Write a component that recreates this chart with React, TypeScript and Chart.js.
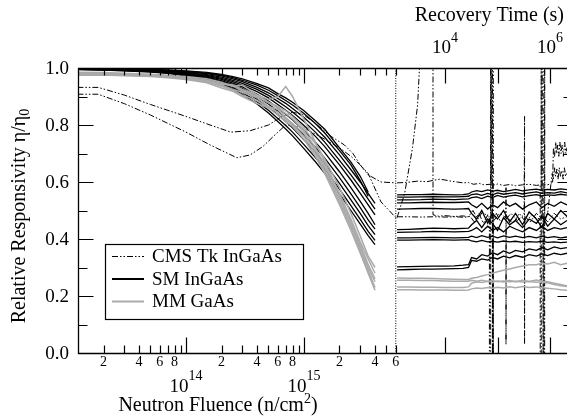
import React, { useEffect, useRef } from 'react';
import { Chart, registerables } from 'chart.js';

Chart.register(...registerables);

// ---------------- data ----------------
const fluenceGrid = [
  1.2e13, 2e13, 3e13, 5e13, 7e13, 1e14, 1.5e14, 2e14, 2.5e14, 3e14, 4e14, 5e14,
  6e14, 7e14, 8e14, 1e15, 1.25e15, 1.5e15, 2e15, 2.5e15, 3e15, 3.5e15, 4e15,
];

const smLeftValues: (number | null)[][] = [
  [1.0, 0.998, 0.997, 0.995, 0.993, 0.99, 0.985, 0.978, 0.97, 0.962, 0.945, 0.93, 0.91, 0.895, 0.88, 0.85, 0.815, 0.785, 0.72, 0.67, 0.62, 0.565, null],
  [0.999, 0.997, 0.996, 0.994, 0.992, 0.988, 0.982, 0.975, 0.966, 0.957, 0.94, 0.922, 0.903, 0.886, 0.87, 0.84, 0.805, 0.772, 0.71, 0.66, 0.605, 0.55, null],
  [0.998, 0.997, 0.995, 0.993, 0.99, 0.986, 0.98, 0.972, 0.962, 0.952, 0.932, 0.913, 0.893, 0.876, 0.858, 0.826, 0.79, 0.757, 0.695, 0.643, 0.6, 0.56, 0.525],
  [0.997, 0.996, 0.994, 0.992, 0.989, 0.984, 0.977, 0.968, 0.957, 0.946, 0.925, 0.904, 0.883, 0.864, 0.846, 0.812, 0.775, 0.74, 0.676, 0.625, 0.58, 0.54, 0.505],
  [0.997, 0.995, 0.993, 0.99, 0.987, 0.982, 0.974, 0.964, 0.952, 0.94, 0.917, 0.895, 0.872, 0.852, 0.833, 0.798, 0.76, 0.724, 0.66, 0.607, 0.56, 0.52, 0.485],
  [0.996, 0.995, 0.993, 0.99, 0.986, 0.98, 0.971, 0.96, 0.947, 0.934, 0.908, 0.884, 0.86, 0.838, 0.818, 0.78, 0.74, 0.703, 0.636, 0.58, 0.532, 0.49, 0.45],
  [0.996, 0.994, 0.992, 0.989, 0.985, 0.978, 0.968, 0.956, 0.942, 0.928, 0.9, 0.874, 0.848, 0.825, 0.804, 0.764, 0.722, 0.684, 0.615, 0.558, 0.51, 0.467, 0.435],
  [0.995, 0.994, 0.992, 0.988, 0.984, 0.976, 0.965, 0.952, 0.937, 0.921, 0.891, 0.863, 0.836, 0.812, 0.79, 0.748, 0.704, 0.665, 0.595, 0.537, 0.49, 0.447, 0.415],
  [0.995, 0.993, 0.991, 0.987, 0.982, 0.974, 0.962, 0.948, 0.931, 0.914, 0.882, 0.852, 0.823, 0.798, 0.775, 0.731, 0.686, 0.646, 0.575, 0.517, 0.469, 0.427, 0.395],
  [0.994, 0.993, 0.99, 0.986, 0.981, 0.972, 0.959, 0.944, 0.926, 0.908, 0.874, 0.842, 0.812, 0.786, 0.762, 0.717, 0.671, 0.63, 0.558, 0.5, 0.452, 0.412, 0.38],
];

const mmLeftValues: (number | null)[][] = [
  [0.985, 0.984, 0.982, 0.978, 0.975, 0.97, 0.962, 0.95, 0.935, 0.94, 0.905, 0.89, 0.9, 0.935, 0.9, 0.82, 0.74, 0.67, 0.56, 0.47, 0.39, 0.33, 0.28],
  [0.98, 0.979, 0.977, 0.974, 0.97, 0.965, 0.955, 0.94, 0.925, 0.915, 0.895, 0.865, 0.855, 0.825, 0.805, 0.77, 0.71, 0.65, 0.54, 0.45, 0.37, 0.3, 0.25],
  [0.975, 0.975, 0.973, 0.97, 0.966, 0.96, 0.948, 0.93, 0.918, 0.9, 0.875, 0.86, 0.835, 0.812, 0.795, 0.75, 0.69, 0.63, 0.52, 0.43, 0.35, 0.28, 0.22],
  [0.983, 0.981, 0.979, 0.976, 0.972, 0.967, 0.958, 0.944, 0.938, 0.92, 0.9, 0.878, 0.86, 0.84, 0.822, 0.78, 0.72, 0.66, 0.55, 0.46, 0.38, 0.31, 0.26],
  [0.978, 0.977, 0.975, 0.972, 0.968, 0.962, 0.952, 0.936, 0.922, 0.905, 0.885, 0.862, 0.845, 0.82, 0.8, 0.76, 0.7, 0.64, 0.53, 0.44, 0.36, 0.29, 0.23],
  [0.982, 0.98, 0.978, 0.975, 0.971, 0.966, 0.957, 0.946, 0.94, 0.925, 0.905, 0.88, 0.865, 0.85, 0.83, 0.79, 0.735, 0.68, 0.58, 0.49, 0.41, 0.34, 0.3],
];

const cmsAFluence = [1.2e13, 1.8e13, 3e13, 5e13, 1e14, 1.6e14, 2.4e14, 3.5e14, 5e14, 6.5e14, 8e14, 1e15, 1.3e15, 1.7e15, 2.2e15, 2.6e15, 3e15, 3.5e15, 4.5e15, 6e15];
const cmsAValues = [0.932, 0.932, 0.905, 0.872, 0.83, 0.8, 0.775, 0.78, 0.8, 0.83, 0.845, 0.835, 0.8, 0.76, 0.73, 0.7, 0.66, 0.625, 0.6, 0.597];

const cmsBFluence = [1.2e13, 1.8e13, 3e13, 5e13, 1e14, 1.6e14, 2.7e14, 3.5e14, 4.5e14, 5.5e14, 7e14, 1e15, 1.5e15, 2e15, 2.5e15, 3e15, 3.5e15, 4.5e15, 6e15];
const cmsBValues = [0.908, 0.908, 0.875, 0.835, 0.775, 0.73, 0.685, 0.695, 0.725, 0.76, 0.8, 0.79, 0.75, 0.72, 0.69, 0.66, 0.63, 0.53, 0.475];

const separatorFluence = [6e15, 6e15];
const separatorValues = [-0.1, 1.1];

const recoveryGrid = [
  1220, 2000, 3500, 6000, 1e4, 1.5e4, 2.2e4, 2.8e4, 3.2e4, 4e4, 5e4, 6.5e4, 8e4,
  1e5, 1.3e5, 1.7e5, 2.2e5, 3e5, 4e5, 5.5e5, 7e5, 9e5, 1.2e6, 1.6e6, 2.1e6,
];

const smRightValues: number[][] = [
  [0.555, 0.556, 0.556, 0.557, 0.556, 0.555, 0.556, 0.558, 0.565, 0.57, 0.566, 0.572, 0.568, 0.571, 0.566, 0.57, 0.574, 0.569, 0.572, 0.575, 0.571, 0.574, 0.572, 0.576, 0.573],
  [0.547, 0.547, 0.548, 0.549, 0.548, 0.548, 0.549, 0.55, 0.556, 0.558, 0.553, 0.56, 0.555, 0.562, 0.557, 0.56, 0.563, 0.558, 0.562, 0.565, 0.56, 0.563, 0.561, 0.566, 0.562],
  [0.537, 0.537, 0.538, 0.54, 0.539, 0.538, 0.54, 0.541, 0.545, 0.548, 0.542, 0.55, 0.545, 0.553, 0.547, 0.551, 0.554, 0.548, 0.552, 0.556, 0.551, 0.555, 0.553, 0.557, 0.554],
  [0.527, 0.527, 0.528, 0.529, 0.528, 0.528, 0.529, 0.53, 0.52, 0.51, 0.525, 0.505, 0.52, 0.51, 0.53, 0.515, 0.525, 0.505, 0.52, 0.53, 0.51, 0.525, 0.515, 0.53, 0.52],
  [0.505, 0.506, 0.507, 0.507, 0.506, 0.505, 0.506, 0.507, 0.49, 0.47, 0.5, 0.455, 0.49, 0.47, 0.5, 0.46, 0.49, 0.45, 0.495, 0.47, 0.44, 0.49, 0.47, 0.5, 0.48],
  [0.433, 0.434, 0.436, 0.438, 0.437, 0.436, 0.437, 0.438, 0.45, 0.465, 0.44, 0.47, 0.455, 0.43, 0.475, 0.45, 0.465, 0.44, 0.47, 0.455, 0.48, 0.445, 0.47, 0.45, 0.465],
  [0.423, 0.424, 0.425, 0.427, 0.426, 0.425, 0.426, 0.427, 0.43, 0.44, 0.425, 0.445, 0.43, 0.44, 0.425, 0.445, 0.435, 0.425, 0.44, 0.43, 0.445, 0.43, 0.44, 0.435, 0.44],
  [0.404, 0.404, 0.405, 0.406, 0.405, 0.404, 0.405, 0.406, 0.41, 0.405, 0.412, 0.406, 0.41, 0.404, 0.411, 0.406, 0.41, 0.405, 0.409, 0.404, 0.41, 0.405, 0.408, 0.404, 0.407],
  [0.396, 0.396, 0.397, 0.398, 0.397, 0.396, 0.397, 0.398, 0.393, 0.39, 0.395, 0.39, 0.392, 0.389, 0.393, 0.39, 0.392, 0.388, 0.391, 0.389, 0.392, 0.388, 0.39, 0.387, 0.389],
  [0.302, 0.303, 0.304, 0.305, 0.305, 0.306, 0.308, 0.31, 0.335, 0.33, 0.345, 0.34, 0.352, 0.345, 0.358, 0.35, 0.36, 0.355, 0.365, 0.36, 0.37, 0.362, 0.372, 0.366, 0.37],
  [0.292, 0.293, 0.294, 0.294, 0.295, 0.296, 0.297, 0.3, 0.325, 0.322, 0.33, 0.326, 0.335, 0.33, 0.34, 0.334, 0.342, 0.336, 0.345, 0.34, 0.348, 0.342, 0.35, 0.345, 0.35],
];

const mmRightValues: number[][] = [
  [0.263, 0.262, 0.262, 0.261, 0.26, 0.259, 0.258, 0.258, 0.262, 0.265, 0.27, 0.275, 0.28, 0.285, 0.29, 0.295, 0.3, 0.305, 0.31, 0.31, 0.315, 0.312, 0.318, 0.31, 0.315],
  [0.255, 0.255, 0.254, 0.254, 0.253, 0.252, 0.252, 0.252, 0.255, 0.252, 0.255, 0.251, 0.254, 0.25, 0.253, 0.25, 0.252, 0.249, 0.251, 0.248, 0.25, 0.246, 0.24, 0.236, 0.233],
  [0.232, 0.232, 0.231, 0.231, 0.23, 0.23, 0.23, 0.232, 0.245, 0.25, 0.247, 0.252, 0.248, 0.253, 0.249, 0.254, 0.25, 0.255, 0.251, 0.256, 0.252, 0.25, 0.245, 0.24, 0.235],
  [0.222, 0.222, 0.221, 0.221, 0.221, 0.22, 0.22, 0.221, 0.225, 0.228, 0.226, 0.23, 0.227, 0.231, 0.228, 0.232, 0.229, 0.233, 0.23, 0.232, 0.229, 0.227, 0.225, 0.222, 0.22],
];

// [recovery time (s), relative responsivity]
const cmsRight1: [number, number][] = [
  [1220, 0.597], [1600, 0.598], [2200, 0.6], [3000, 0.603], [4500, 0.601], [6000, 0.606], [8000, 0.61], [1e4, 0.607],
  [1.3e4, 0.603], [1.7e4, 0.6], [2.2e4, 0.597], [2.8e4, 0.598], [3.5e4, 0.592], [4.5e4, 0.595], [5.5e4, 0.59], [7.2e4, 0.592],
  [7.6e4, 0.59], [7.6e4, 1.3], [8.0e4, 1.3], [8.0e4, -0.3], [8.0e4, 0.59], [9e4, 0.59], [1e5, 0.593], [1.3e5, 0.588],
  [1.7e5, 0.591], [2.2e5, 0.587], [3e5, 0.59], [4e5, 0.592], [5.5e5, 0.588], [6.5e5, 0.59], [6.5e5, -0.3], [6.8e5, -0.3],
  [6.8e5, 1.3], [6.8e5, 0.59], [8.5e5, 0.59], [1.0e6, 0.592], [1.12e6, 0.6], [1.16e6, 0.72], [1.22e6, 0.69], [1.28e6, 0.74],
  [1.34e6, 0.7], [1.4e6, 0.73], [1.47e6, 0.69], [1.54e6, 0.74], [1.62e6, 0.7], [1.7e6, 0.73], [1.8e6, 0.69], [1.9e6, 0.74],
  [2.0e6, 0.7], [2.1e6, 0.72], [2.3e6, 0.71],
];

const cmsRight2: [number, number][] = [
  [1220, 0.475], [1700, 0.56], [2400, 0.72], [3000, 0.87], [3700, 1.2], [5900, 1.2], [5900, 0.485], [7500, 0.48],
  [1e4, 0.482], [1.5e4, 0.479], [2.2e4, 0.481], [2.8e4, 0.478], [3.4e4, 0.5], [4.2e4, 0.47], [5.2e4, 0.495], [7.0e4, 0.475],
  [7.0e4, -0.3], [7.4e4, -0.3], [7.4e4, 1.3], [7.4e4, 0.48], [8.5e4, 0.465], [1.1e5, 0.49], [1.44e5, 0.475], [1.45e5, 0.58],
  [1.45e5, 0.03], [1.46e5, 0.47], [1.8e5, 0.49], [2.4e5, 0.465], [3.2e5, 0.485], [3.27e5, 0.83], [3.27e5, 0.03], [3.29e5, 0.48],
  [4.2e5, 0.46], [5.5e5, 0.49], [7.1e5, 0.47], [7.1e5, 1.3], [7.4e5, 1.3], [7.4e5, -0.3], [7.4e5, 0.48], [9e5, 0.46],
  [1.2e6, 0.49], [1.6e6, 0.47], [2.2e6, 0.48],
];

const cmsRight3: [number, number][] = [
  [1220, 0.478], [2000, 0.478], [3500, 0.477], [6000, 0.478], [1e4, 0.477], [1.6e4, 0.478], [2.4e4, 0.476], [3e4, 0.48],
  [3.6e4, 0.46], [4.4e4, 0.49], [5.4e4, 0.455], [6.5e4, 0.485], [7.8e4, 0.47], [7.8e4, 1.3], [8.3e4, 1.3], [8.3e4, -0.3],
  [8.3e4, 0.47], [9.5e4, 0.49], [1.15e5, 0.46], [1.5e5, 0.48], [2e5, 0.455], [2.6e5, 0.49], [3.4e5, 0.46], [4.5e5, 0.485],
  [5.8e5, 0.47], [7.7e5, 0.48], [7.7e5, -0.3], [7.9e5, -0.3], [7.9e5, 1.3], [7.9e5, 0.47], [9e5, 0.49], [1.05e6, 0.6],
  [1.1e6, 0.63], [1.16e6, 0.61], [1.22e6, 0.65], [1.28e6, 0.62], [1.35e6, 0.645], [1.42e6, 0.61], [1.5e6, 0.65], [1.58e6, 0.62],
  [1.68e6, 0.64], [1.78e6, 0.61], [1.88e6, 0.65], [1.98e6, 0.62], [2.2e6, 0.64],
];

// ticks / labels
const yMajorTicks = [0, 0.2, 0.4, 0.6, 0.8, 1.0];
const yMinorTicks = [0.1, 0.3, 0.5, 0.7, 0.9];
const fluenceMajorTicks = [1e14, 1e15];
const fluenceMinorTicks = [
  2e13, 3e13, 4e13, 5e13, 6e13, 7e13, 8e13, 9e13,
  2e14, 3e14, 4e14, 5e14, 6e14, 7e14, 8e14, 9e14,
  2e15, 3e15, 4e15, 5e15, 6e15,
];
const fluenceLabelTicks = [2e13, 4e13, 6e13, 8e13, 2e14, 4e14, 6e14, 8e14, 2e15, 4e15, 6e15];
const recoveryTicks = [1e4, 1e5, 1e6];
const recoveryLabelTicks = [1e4, 1e6];

const legendItems = ['CMS Tk InGaAs', 'SM InGaAs', 'MM GaAs'];

// ---------------- styling ----------------
const W = 580;
const H = 417;
const SERIF = '"Liberation Serif", "Times New Roman", Times, serif';
const GREY = '#aaaaaa';
const CMS_DASH = [6, 2, 1.5, 2, 1.5, 2];

const FLUENCE_MIN = 1.215e13;
const FLUENCE_MAX = 1.87e17;
const RECOVERY_MIN = 1.02e-3;
const RECOVERY_MAX = 2.62e6;

const toPts = (xs: number[], ys: (number | null)[]) =>
  xs.map((x, i) => ({ x, y: ys[i] })).filter((p) => p.y !== null) as { x: number; y: number }[];
const pairPts = (pairs: [number, number][]) => pairs.map(([x, y]) => ({ x, y }));

function buildDatasets() {
  const ds: any[] = [];
  const base = { pointRadius: 0, tension: 0, fill: false };
  mmLeftValues.forEach((v) =>
    ds.push({ ...base, data: toPts(fluenceGrid, v), xAxisID: 'xF', yAxisID: 'y', borderColor: GREY, borderWidth: 1.5 })
  );
  mmRightValues.forEach((v) =>
    ds.push({ ...base, data: toPts(recoveryGrid, v), xAxisID: 'xR', yAxisID: 'y', borderColor: GREY, borderWidth: 1.5 })
  );
  smLeftValues.forEach((v) =>
    ds.push({ ...base, data: toPts(fluenceGrid, v), xAxisID: 'xF', yAxisID: 'y', borderColor: '#000', borderWidth: 1.3 })
  );
  smRightValues.forEach((v) =>
    ds.push({ ...base, data: toPts(recoveryGrid, v), xAxisID: 'xR', yAxisID: 'y', borderColor: '#000', borderWidth: 1.3 })
  );
  const cms = { ...base, borderColor: '#000', borderWidth: 1, borderDash: CMS_DASH, yAxisID: 'y' };
  ds.push({ ...cms, data: toPts(cmsAFluence, cmsAValues), xAxisID: 'xF' });
  ds.push({ ...cms, data: toPts(cmsBFluence, cmsBValues), xAxisID: 'xF' });
  ds.push({ ...cms, data: pairPts(cmsRight1), xAxisID: 'xR' });
  ds.push({ ...cms, data: pairPts(cmsRight2), xAxisID: 'xR' });
  ds.push({ ...cms, data: pairPts(cmsRight3), xAxisID: 'xR' });
  ds.push({
    ...base,
    data: toPts(separatorFluence, separatorValues),
    xAxisID: 'xF',
    yAxisID: 'y',
    borderColor: '#000',
    borderWidth: 1,
    borderDash: [1, 1.5],
  });
  return ds;
}

function drawPow(ctx: CanvasRenderingContext2D, base: string, exp: string, cx: number, baseY: number, bs: number, es: number, raise: number) {
  ctx.font = `${bs}px ${SERIF}`;
  const wb = ctx.measureText(base).width;
  ctx.font = `${es}px ${SERIF}`;
  const we = ctx.measureText(exp).width;
  const start = cx - (wb + we) / 2;
  ctx.textAlign = 'left';
  ctx.textBaseline = 'alphabetic';
  ctx.font = `${bs}px ${SERIF}`;
  ctx.fillText(base, start, baseY);
  ctx.font = `${es}px ${SERIF}`;
  ctx.fillText(exp, start + wb, baseY - raise);
}

const axesPlugin = {
  id: 'igorAxes',
  afterDraw(chart: any) {
    const { ctx, chartArea: a, scales } = chart;
    const xF = scales.xF;
    const xR = scales.xR;
    const y = scales.y;
    ctx.save();
    ctx.strokeStyle = '#000';
    ctx.fillStyle = '#000';
    ctx.lineWidth = 1.3;
    const L = Math.round(a.left) + 0.5;
    const R = Math.round(a.right) + 0.5;
    const T = Math.round(a.top) + 0.5;
    const B = Math.round(a.bottom) + 0.5;
    ctx.beginPath();
    ctx.moveTo(L, T);
    ctx.lineTo(R, T);
    ctx.lineTo(R, B);
    ctx.lineTo(L, B);
    ctx.closePath();
    ctx.stroke();

    ctx.lineWidth = 1.2;
    ctx.beginPath();
    const yTick = (v: number, len: number) => {
      const py = Math.round(y.getPixelForValue(v)) + 0.5;
      ctx.moveTo(L, py);
      ctx.lineTo(L + len, py);
      ctx.moveTo(R, py);
      ctx.lineTo(R - len, py);
    };
    yMajorTicks.forEach((v) => yTick(v, 15));
    yMinorTicks.forEach((v) => yTick(v, 9));
    const xTick = (scale: any, v: number, lenB: number, lenT: number) => {
      const px = Math.round(scale.getPixelForValue(v)) + 0.5;
      ctx.moveTo(px, B);
      ctx.lineTo(px, B - lenB);
      ctx.moveTo(px, T);
      ctx.lineTo(px, T + lenT);
    };
    fluenceMajorTicks.forEach((v) => xTick(xF, v, 16, 15));
    fluenceMinorTicks.forEach((v) => xTick(xF, v, 8, 7));
    recoveryTicks.forEach((v) => xTick(xR, v, 16, 15));
    ctx.stroke();

    // y tick labels
    ctx.font = `19px ${SERIF}`;
    ctx.textAlign = 'right';
    ctx.textBaseline = 'middle';
    yMajorTicks.forEach((v) => ctx.fillText(v.toFixed(1), a.left - 9, y.getPixelForValue(v) + 1));

    // fluence minor labels
    ctx.font = `14px ${SERIF}`;
    ctx.textAlign = 'center';
    ctx.textBaseline = 'alphabetic';
    fluenceLabelTicks.forEach((v) => {
      const m = Math.round(v / Math.pow(10, Math.floor(Math.log10(v) + 1e-9)));
      ctx.fillText(String(m), xF.getPixelForValue(v), a.bottom + 13);
    });
    // fluence decade labels
    fluenceMajorTicks.forEach((v) => {
      const e = Math.round(Math.log10(v));
      drawPow(ctx, '10', String(e), xF.getPixelForValue(v), a.bottom + 39, 19, 14, 12);
    });
    // recovery labels (top)
    recoveryLabelTicks.forEach((v) => {
      const e = Math.round(Math.log10(v));
      drawPow(ctx, '10', String(e), xR.getPixelForValue(v), 53, 19, 14, 11);
    });

    // titles
    ctx.font = `20px ${SERIF}`;
    ctx.textAlign = 'right';
    ctx.textBaseline = 'alphabetic';
    ctx.fillText('Recovery Time (s)', 564, 21);

    // x title with superscript
    {
      const p1 = 'Neutron Fluence (n/cm';
      const sup = '2';
      const p2 = ')';
      ctx.font = `20px ${SERIF}`;
      const w1 = ctx.measureText(p1).width;
      const w2 = ctx.measureText(p2).width;
      ctx.font = `14px ${SERIF}`;
      const ws = ctx.measureText(sup).width;
      const start = 218 - (w1 + ws + w2) / 2;
      ctx.textAlign = 'left';
      ctx.font = `20px ${SERIF}`;
      ctx.fillText(p1, start, 411);
      ctx.font = `14px ${SERIF}`;
      ctx.fillText(sup, start + w1, 403);
      ctx.font = `20px ${SERIF}`;
      ctx.fillText(p2, start + w1 + ws, 411);
    }

    // y title rotated
    {
      ctx.save();
      ctx.translate(25, 216);
      ctx.rotate(-Math.PI / 2);
      const main = 'Relative Responsivity \u03b7/\u03b7';
      ctx.font = `20px ${SERIF}`;
      const wm = ctx.measureText(main).width;
      ctx.font = `14px ${SERIF}`;
      const ws = ctx.measureText('0').width;
      const sx = -(wm + ws) / 2;
      ctx.textAlign = 'left';
      ctx.font = `20px ${SERIF}`;
      ctx.fillText(main, sx, 0);
      ctx.font = `14px ${SERIF}`;
      ctx.fillText('0', sx + wm, 4);
      ctx.restore();
    }

    // legend
    {
      const lx = 105, ly = 244, lw = 198, lh = 75;
      ctx.fillStyle = '#fff';
      ctx.fillRect(lx, ly, lw, lh);
      ctx.strokeStyle = '#000';
      ctx.lineWidth = 1.2;
      ctx.strokeRect(lx + 0.5, ly + 0.5, lw, lh);
      const rows = [256.5, 279, 301.5];
      const styles = [
        { c: '#000', w: 1, d: CMS_DASH },
        { c: '#000', w: 2, d: [] as number[] },
        { c: GREY, w: 2, d: [] as number[] },
      ];
      legendItems.forEach((label, i) => {
        const s = styles[i];
        ctx.strokeStyle = s.c;
        ctx.lineWidth = s.w;
        ctx.setLineDash(s.d);
        ctx.beginPath();
        ctx.moveTo(112, rows[i]);
        ctx.lineTo(144, rows[i]);
        ctx.stroke();
        ctx.setLineDash([]);
        ctx.fillStyle = '#000';
        ctx.font = `19px ${SERIF}`;
        ctx.textAlign = 'left';
        ctx.textBaseline = 'middle';
        ctx.fillText(label, 152, rows[i] + 1);
      });
    }
    ctx.restore();
  },
};

export default function App() {
  const ref = useRef<HTMLCanvasElement>(null);
  useEffect(() => {
    if (!ref.current) return;
    const chart = new Chart(ref.current, {
      type: 'line',
      data: { datasets: buildDatasets() },
      options: {
        animation: false,
        responsive: false,
        maintainAspectRatio: false,
        events: [],
        layout: { padding: { left: 78, top: 68, right: W - 572, bottom: H - 353 } },
        plugins: { legend: { display: false }, tooltip: { enabled: false }, title: { display: false } },
        scales: {
          xF: { type: 'logarithmic', position: 'bottom', min: FLUENCE_MIN, max: FLUENCE_MAX, display: false },
          xR: { type: 'logarithmic', position: 'top', min: RECOVERY_MIN, max: RECOVERY_MAX, display: false },
          y: { type: 'linear', min: 0, max: 1, display: false },
        },
      },
      plugins: [axesPlugin],
    } as any);
    let alive = true;
    const fonts = (document as any).fonts;
    if (fonts && fonts.load) {
      Promise.all([fonts.load(`20px "Liberation Serif"`), fonts.load(`14px "Liberation Serif"`)])
        .then(() => {
          if (alive) chart.draw();
        })
        .catch(() => {});
    }
    return () => {
      alive = false;
      chart.destroy();
    };
  }, []);
  return (
    <div style={{ position: 'absolute', left: 0, top: 0, width: 567, height: 417, overflow: 'hidden', background: '#fff' }}>
      <canvas ref={ref} width={W} height={H} style={{ display: 'block', width: W, height: H }} />
    </div>
  );
}
